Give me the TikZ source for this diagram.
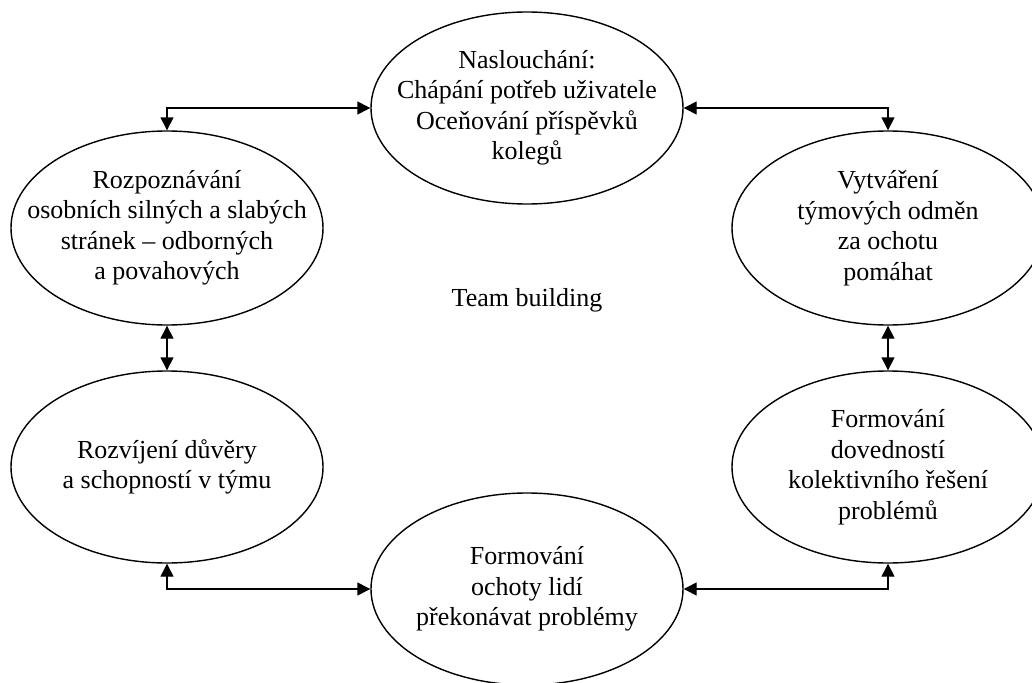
\documentclass[tikz,border=0pt]{standalone}
\usepackage{fontspec}
\setmainfont{Liberation Serif}
\usetikzlibrary{shapes.geometric,arrows.meta}
\tikzset{
  bubble/.style={draw, ellipse, line width=1.4pt, minimum width=312pt, minimum height=192pt, inner sep=0pt},
  btext/.style={align=center, font=\fontsize{26pt}{30.5pt}\selectfont, inner sep=0pt},
  link/.style={line width=1.4pt, {Triangle[length=13pt,width=13pt]}-{Triangle[length=13pt,width=13pt]}}
}
\begin{document}
\begin{tikzpicture}[x=1pt,y=-1pt]
\useasboundingbox (0,0) rectangle (1032,682);
\clip (0,0) rectangle (1032,682);
\node[bubble] (top) at (527,108) {};
\node[bubble, minimum height=194pt] (ul) at (167,228) {};
\node[bubble, minimum height=194pt] (ur) at (888,228) {};
\node[bubble] (ll) at (167,467) {};
\node[bubble] (lr) at (888,467) {};
\node[bubble] (bot) at (527,589) {};
\node[btext] (ttop) at (top) {Naslouchání:\\Chápání potřeb uživatele\\Oceňování příspěvků\\kolegů};
\node[btext] (tul) at (ul) {Rozpoznávání\\osobních silných a slabých\\stránek – odborných\\a povahových};
\node[btext] (tur) at (ur) {Vytváření\\týmových odměn\\za ochotu\\pomáhat};
\node[btext] (tll) at (ll) {Rozvíjení důvěry\\a schopností v týmu};
\node[btext] (tlr) at (lr) {Formování\\dovedností\\kolektivního řešení\\problémů};
\node[btext] (tbot) at (bot) {Formování\\ochoty lidí\\překonávat problémy};
\node[btext] (team) at (527,300) {Team building};
\draw[link] (top.west) -| (ul.north);
\draw[link] (top.east) -| (ur.north);
\draw[link] (ul.south) -- (ll.north);
\draw[link] (ur.south) -- (lr.north);
\draw[link] (ll.south) |- (bot.west);
\draw[link] (lr.south) |- (bot.east);
\end{tikzpicture}
\end{document}
